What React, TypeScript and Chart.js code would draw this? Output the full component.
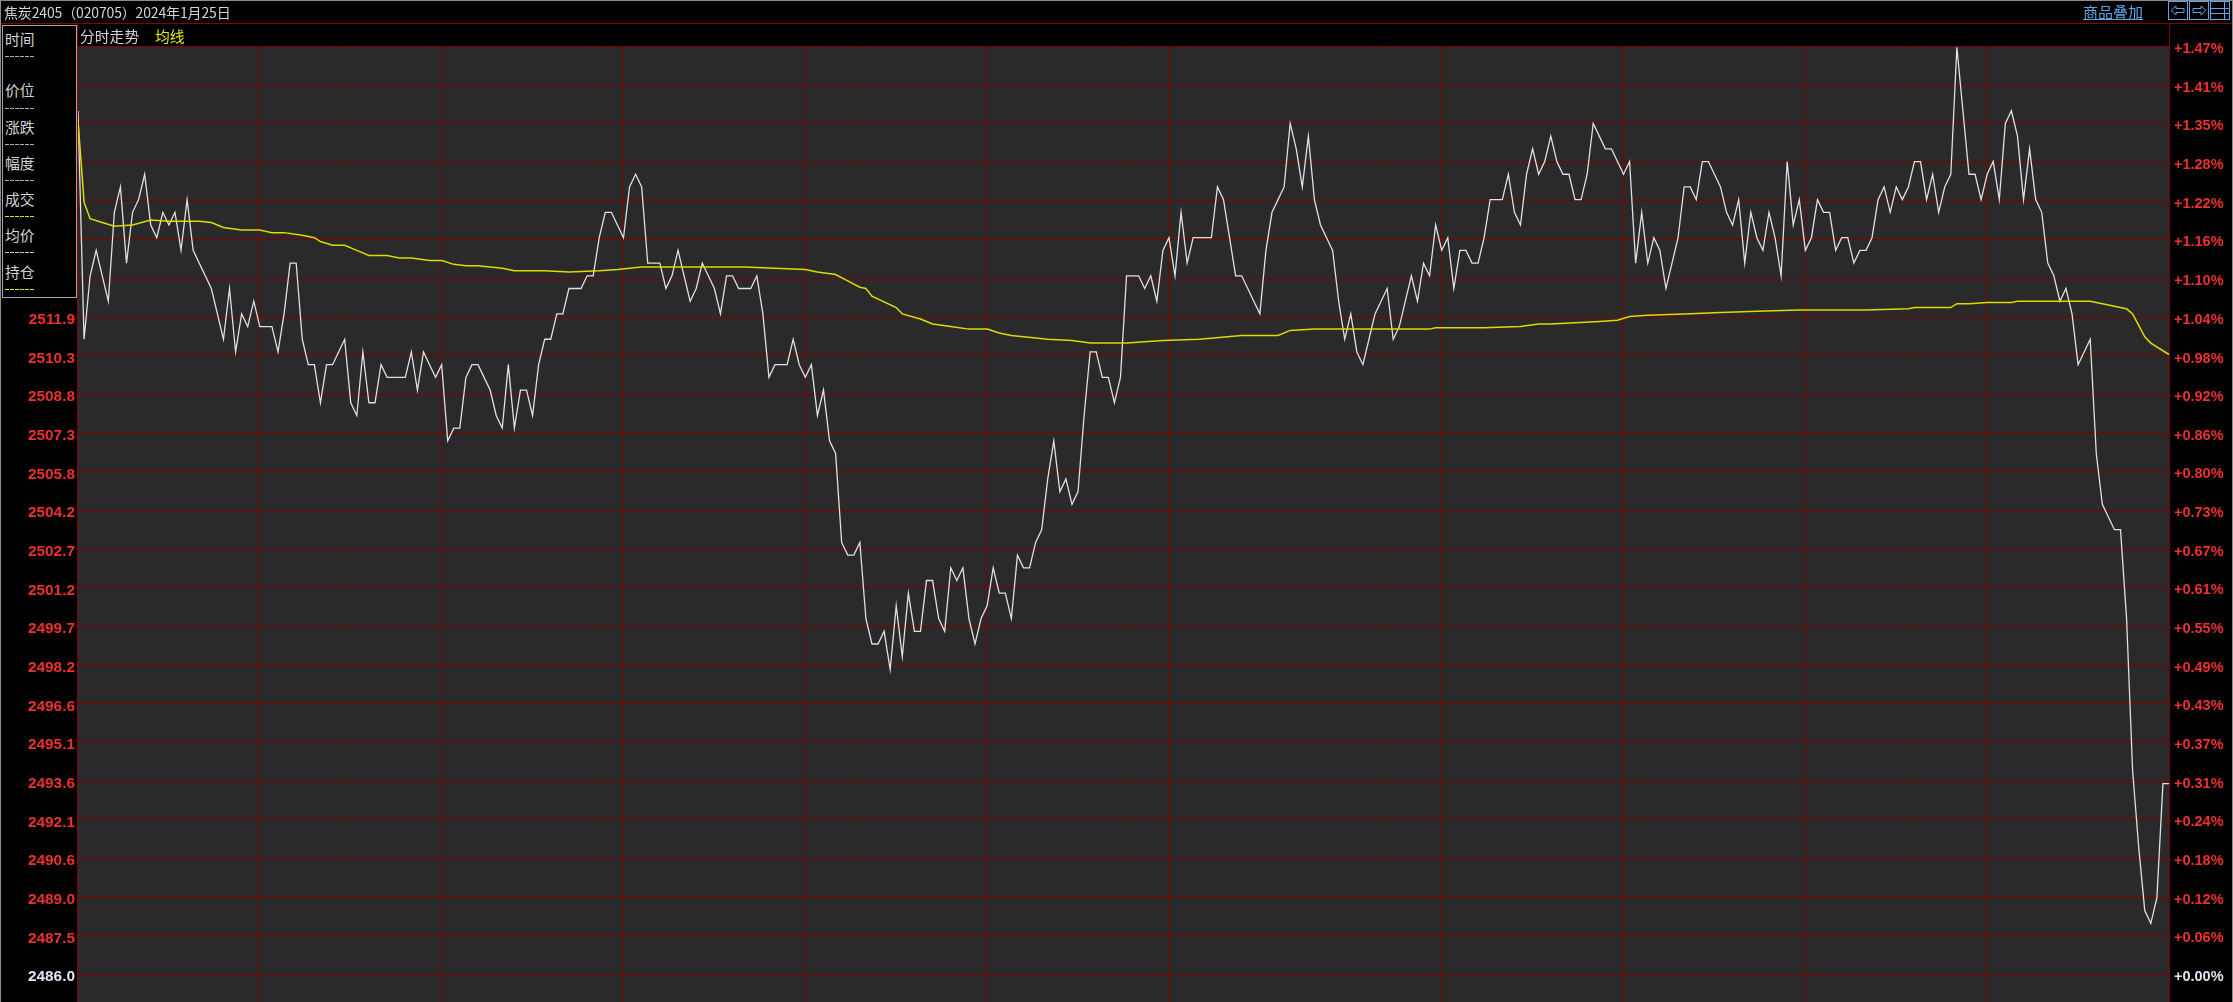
import React, { useEffect, useRef } from "react";
import { Chart, registerables } from "chart.js";

Chart.register(...registerables);

const priceSeries = [
  2520, 2511, 2513.5, 2514.5, 2513.5, 2512.5, 2516, 2517, 2514, 2516,
  2516.5, 2517.5, 2515.5, 2515, 2516, 2515.5, 2516, 2514.5, 2516.5, 2514.5,
  2514, 2513.5, 2513, 2512, 2511, 2513, 2510.5, 2512, 2511.5, 2512.5,
  2511.5, 2511.5, 2511.5, 2510.5, 2512, 2514, 2514, 2511, 2510, 2510,
  2508.5, 2510, 2510, 2510.5, 2511, 2508.5, 2508, 2510.5, 2508.5, 2508.5,
  2510, 2509.5, 2509.5, 2509.5, 2509.5, 2510.5, 2509, 2510.5, 2510, 2509.5,
  2510, 2507, 2507.5, 2507.5, 2509.5, 2510, 2510, 2509.5, 2509, 2508,
  2507.5, 2510, 2507.5, 2509, 2509, 2508, 2510, 2511, 2511, 2512,
  2512, 2513, 2513, 2513, 2513.5, 2513.5, 2515, 2516, 2516, 2515.5,
  2515, 2517, 2517.5, 2517, 2514, 2514, 2514, 2513, 2513.5, 2514.5,
  2513.5, 2512.5, 2513, 2514, 2513.5, 2513, 2512, 2513.5, 2513.5, 2513,
  2513, 2513, 2513.5, 2512, 2509.5, 2510, 2510, 2510, 2511, 2510,
  2509.5, 2510, 2508, 2509, 2507, 2506.5, 2503, 2502.5, 2502.5, 2503,
  2500, 2499, 2499, 2499.5, 2498, 2500.5, 2498.5, 2501, 2499.5, 2499.5,
  2501.5, 2501.5, 2500, 2499.5, 2502, 2501.5, 2502, 2500, 2499, 2500,
  2500.5, 2502, 2501, 2501, 2500, 2502.5, 2502, 2502, 2503, 2503.5,
  2505.5, 2507, 2505, 2505.5, 2504.5, 2505, 2508, 2510.5, 2510.5, 2509.5,
  2509.5, 2508.5, 2509.5, 2513.5, 2513.5, 2513.5, 2513, 2513.5, 2512.5, 2514.5,
  2515, 2513.5, 2516, 2514, 2515, 2515, 2515, 2515, 2517, 2516.5,
  2515, 2513.5, 2513.5, 2513, 2512.5, 2512, 2514.5, 2516, 2516.5, 2517,
  2519.5, 2518.5, 2517, 2519, 2516.5, 2515.5, 2515, 2514.5, 2512.5, 2511,
  2512, 2510.5, 2510, 2511, 2512, 2512.5, 2513, 2511, 2511.5, 2512.5,
  2513.5, 2512.5, 2514, 2513.5, 2515.5, 2514.5, 2515, 2513, 2514.5, 2514.5,
  2514, 2514, 2515, 2516.5, 2516.5, 2516.5, 2517.5, 2516, 2515.5, 2517.5,
  2518.5, 2517.5, 2518, 2519, 2518, 2517.5, 2517.5, 2516.5, 2516.5, 2517.5,
  2519.5, 2519, 2518.5, 2518.5, 2518, 2517.5, 2518, 2514, 2516, 2514,
  2515, 2514.5, 2513, 2514, 2515, 2517, 2517, 2516.5, 2518, 2518,
  2517.5, 2517, 2516, 2515.5, 2516.5, 2514, 2516, 2515, 2514.5, 2516,
  2515, 2513.5, 2518, 2515.5, 2516.5, 2514.5, 2515, 2516.5, 2516, 2516,
  2514.5, 2515, 2515, 2514, 2514.5, 2514.5, 2515, 2516.5, 2517, 2516,
  2517, 2516.5, 2517, 2518, 2518, 2516.5, 2517.5, 2516, 2517, 2517.5,
  2522.5, 2520, 2517.5, 2517.5, 2516.5, 2517.5, 2518, 2516.5, 2519.5, 2520,
  2519, 2516.5, 2518.5, 2516.5, 2516, 2514, 2513.5, 2512.5, 2513, 2512,
  2510, 2510.5, 2511, 2506.5, 2504.5, 2504, 2503.5, 2503.5, 2500, 2494,
  2491, 2488.5, 2488, 2489, 2493.5, 2493.5,
];

const avgMinutes = [
  0, 1, 2, 4, 6, 9, 12, 15, 20, 22, 24, 27, 30, 32, 34, 37, 39, 40, 42, 44, 46, 48, 51, 53, 55, 58, 60, 62, 64, 66,
  70, 72, 77, 81, 86, 89, 93, 110, 115, 120, 122, 125, 127, 129, 130, 131, 135, 136, 139, 141, 144, 147, 150, 152,
  154, 158, 160, 164, 167, 173, 179, 185, 192, 198, 200, 204, 223, 224, 232, 238, 241, 243, 247, 251, 254, 256, 259,
  265, 271, 277, 284, 295, 302, 303, 309, 310, 312, 315, 319, 320, 332, 334, 336, 338, 339, 340, 341, 342, 345,
];
const avgPrices = [
  2519.6, 2516.4, 2515.75, 2515.6, 2515.45, 2515.5, 2515.7, 2515.65, 2515.65, 2515.6, 2515.4, 2515.3, 2515.3, 2515.2,
  2515.2, 2515.1, 2515, 2514.85, 2514.7, 2514.7, 2514.5, 2514.3, 2514.3, 2514.2, 2514.2, 2514.1, 2514.1, 2513.95,
  2513.9, 2513.9, 2513.8, 2513.7, 2513.7, 2513.65, 2513.7, 2513.75, 2513.85, 2513.85, 2513.8, 2513.75, 2513.65,
  2513.55, 2513.3, 2513.05, 2513, 2512.7, 2512.25, 2512, 2511.8, 2511.6, 2511.5, 2511.4, 2511.4, 2511.25, 2511.15,
  2511.05, 2511, 2510.95, 2510.85, 2510.85, 2510.95, 2511, 2511.15, 2511.15, 2511.35, 2511.4, 2511.4, 2511.45,
  2511.45, 2511.5, 2511.6, 2511.6, 2511.65, 2511.7, 2511.75, 2511.9, 2511.95, 2512, 2512.05, 2512.1, 2512.15, 2512.15,
  2512.2, 2512.25, 2512.25, 2512.4, 2512.4, 2512.45, 2512.45, 2512.5, 2512.5, 2512.4, 2512.3, 2512.2, 2512, 2511.55,
  2511.1, 2510.85, 2510.4,
];

const priceTicks = [
  2486, 2487.52, 2489.05, 2490.57, 2492.09, 2493.61, 2495.14, 2496.66, 2498.18, 2499.7, 2501.23, 2502.75, 2504.27,
  2505.8, 2507.32, 2508.84, 2510.36, 2511.89, 2513.41, 2514.93, 2516.45, 2517.98, 2519.5, 2521.02, 2522.55,
];
const priceLabels = [
  "2486.0", "2487.5", "2489.0", "2490.6", "2492.1", "2493.6", "2495.1", "2496.6", "2498.2", "2499.7", "2501.2",
  "2502.7", "2504.2", "2505.8", "2507.3", "2508.8", "2510.3", "2511.9", "", "", "", "", "", "", "",
];
const percentLabels = [
  "+0.00%", "+0.06%", "+0.12%", "+0.18%", "+0.24%", "+0.31%", "+0.37%", "+0.43%", "+0.49%", "+0.55%", "+0.61%",
  "+0.67%", "+0.73%", "+0.80%", "+0.86%", "+0.92%", "+0.98%", "+1.04%", "+1.10%", "+1.16%", "+1.22%", "+1.28%",
  "+1.35%", "+1.41%", "+1.47%",
];
const timeGrid = [30, 60, 90, 120, 150, 180, 225, 255, 285, 315];
const infoRows = [
  { label: "时间", y: 39, dash: 56, color: "#9ab0c8" },
  { label: "价位", y: 90, dash: 108, color: "#9ab0c8" },
  { label: "涨跌", y: 127, dash: 144, color: "#9ab0c8" },
  { label: "幅度", y: 163, dash: 180, color: "#9ab0c8" },
  { label: "成交", y: 199, dash: 216, color: "#e0e000" },
  { label: "均价", y: 235, dash: 252, color: "#c8c8c8" },
  { label: "持仓", y: 272, dash: 289, color: "#e0e000" },
];

const CJK = '"Noto Sans CJK SC", sans-serif';
const GRID = "#7f0000";

const text = (left: number, centerY: number, size: number, color: string): React.CSSProperties => ({
  position: "absolute",
  left,
  top: centerY - 12,
  height: 24,
  lineHeight: "24px",
  fontFamily: CJK,
  fontSize: size,
  color,
  whiteSpace: "nowrap",
});

const background = {
  id: "quoteBackground",
  beforeDraw(chart: any) {
    const { ctx, chartArea: a } = chart;
    ctx.save();
    ctx.fillStyle = "#000";
    ctx.fillRect(0, 0, chart.width, chart.height);
    ctx.fillStyle = "#2a2a2a";
    ctx.fillRect(a.left, a.top, a.right - a.left, a.bottom - a.top);
    ctx.strokeStyle = "#8a0000";
    ctx.lineWidth = 1;
    ctx.beginPath();
    ctx.moveTo(0, 23.5);
    ctx.lineTo(chart.width, 23.5);
    ctx.moveTo(a.left - 0.5, 24);
    ctx.lineTo(a.left - 0.5, a.bottom);
    ctx.moveTo(a.right + 0.5, 24);
    ctx.lineTo(a.right + 0.5, a.bottom);
    ctx.stroke();
    ctx.restore();
  },
};

export default function App() {
  const ref = useRef<HTMLCanvasElement>(null);

  useEffect(() => {
    document.body.style.margin = "0";
    document.body.style.background = "#000";
    const tickSetter = (scale: any) => {
      scale.ticks = priceTicks.map((value) => ({ value }));
    };
    const yBase = {
      type: "linear",
      min: 2484.9,
      max: 2522.55,
      afterBuildTicks: tickSetter,
    };
    const fitWidth = (width: number) => (scale: any) => {
      scale.width = width;
      scale.paddingTop = 0;
      scale.paddingBottom = 0;
    };
    const chart = new Chart(ref.current as HTMLCanvasElement, {
      type: "line",
      plugins: [background],
      data: {
        datasets: [
          {
            label: "分时走势",
            data: priceSeries.map((y, x) => ({ x, y })),
            borderColor: "#e0e0e0",
            borderWidth: 1.3,
            pointRadius: 0,
            tension: 0,
            order: 2,
          },
          {
            label: "均线",
            data: avgPrices.map((y, i) => ({ x: avgMinutes[i], y })),
            borderColor: "#dcdc00",
            borderWidth: 1.5,
            pointRadius: 0,
            tension: 0,
            order: 1,
          },
        ],
      },
      options: {
        animation: false,
        responsive: false,
        layout: { padding: { top: 46, left: 0, right: 0, bottom: 0 } },
        plugins: { legend: { display: false }, tooltip: { enabled: false } },
        scales: {
          x: {
            type: "linear",
            min: 0,
            max: 345,
            afterBuildTicks: (scale: any) => {
              scale.ticks = timeGrid.map((value) => ({ value }));
            },
            afterFit: (scale: any) => {
              scale.height = 0;
              scale.paddingLeft = 0;
              scale.paddingRight = 0;
            },
            ticks: { display: false },
            border: { display: false },
            grid: { color: GRID, lineWidth: 1, drawTicks: false },
          },
          y: {
            ...yBase,
            position: "left",
            afterFit: fitWidth(78),
            border: { display: false },
            grid: { color: GRID, lineWidth: 1, drawTicks: false },
            ticks: {
              autoSkip: false,
              padding: 3,
              labelOffset: 3,
              font: { family: "Liberation Sans", weight: "bold", size: 15.4 },
              color: (c: any) => (c.index === 0 ? "#dfe8f2" : "#ee3030"),
              callback: (_v: any, i: number) => priceLabels[i],
            },
          },
          y1: {
            ...yBase,
            position: "right",
            afterFit: fitWidth(64),
            border: { display: false },
            grid: { display: false, drawTicks: false },
            ticks: {
              autoSkip: false,
              padding: 5,
              labelOffset: 3,
              font: { family: "Liberation Sans", weight: "bold", size: 14.5 },
              color: (c: any) => (c.index === 0 ? "#dfe8f2" : "#ee3030"),
              callback: (_v: any, i: number) => percentLabels[i],
            },
          },
        },
      },
    } as any);
    return () => chart.destroy();
  }, []);

  return (
    <div style={{ position: "fixed", left: 0, top: 0, width: 2233, height: 1002, overflow: "hidden", background: "#000" }}>
      <canvas ref={ref} width={2233} height={1002} style={{ display: "block", position: "absolute", left: 0, top: 0 }} />
      <div style={{ position: "absolute", left: 0, top: 0, width: 2233, height: 1, background: "#8c8c8c" }} />
      <div style={{ position: "absolute", left: 0, top: 0, width: 1, height: 1002, background: "#8c8c8c" }} />
      <div style={{ position: "absolute", left: 2232, top: 0, width: 1, height: 1002, background: "#8c8c8c" }} />

      <div style={{ ...text(4, 12, 14, "#d4d4d4"), letterSpacing: -0.15 }}>焦炭2405（020705）2024年1月25日</div>
      <div style={text(80, 36, 14.8, "#d4d4d4")}>分时走势</div>
      <div style={text(155, 36, 14.8, "#e8e800")}>均线</div>
      <div style={{ ...text(2083, 12, 15, "#62a4e8"), textDecoration: "underline" }}>商品叠加</div>

      <svg width={64} height={20} style={{ position: "absolute", left: 2168, top: 1 }} fill="none" stroke="#62a4e8" strokeWidth={1}>
        <rect x={0.5} y={0.5} width={19} height={18} />
        <path d="M3 9.5 L8 5 V7.5 H16 V11.5 H8 V14 Z" />
        <rect x={21.5} y={0.5} width={19} height={18} />
        <path d="M38 9.5 L33 5 V7.5 H25 V11.5 H33 V14 Z" />
        <rect x={42.5} y={0.5} width={19} height={18} />
        <path d="M42.5 7.5 H61.5 M42.5 12.5 H61.5 M56.5 1 V18" />
      </svg>

      <div
        style={{
          position: "absolute",
          left: 2,
          top: 25,
          width: 73,
          height: 271,
          background: "#000",
          border: "1px solid #b0a0a0",
        }}
      >
        {infoRows.map((row) => (
          <React.Fragment key={row.label}>
            <div style={text(2, row.y - 26, 14.8, "#d4d4d4")}>{row.label}</div>
            <div
              style={{
                position: "absolute",
                left: 2,
                top: row.dash - 26,
                width: 30,
                height: 1,
                backgroundImage: `repeating-linear-gradient(90deg, ${row.color} 0 4px, transparent 4px 5px)`,
              }}
            />
          </React.Fragment>
        ))}
      </div>
    </div>
  );
}
